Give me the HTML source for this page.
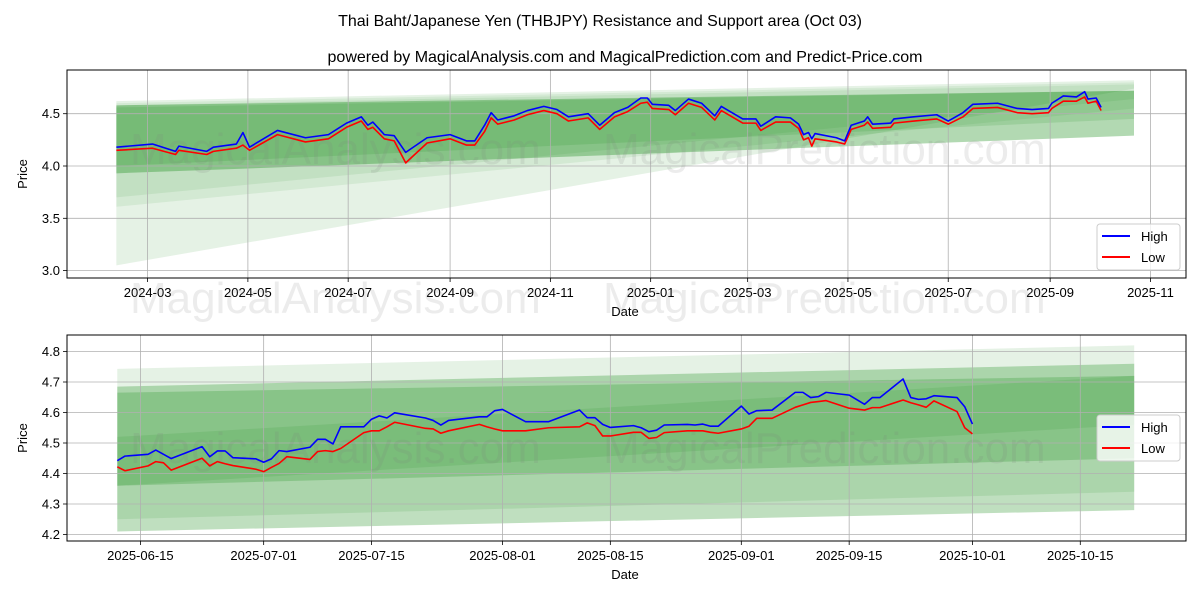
<!DOCTYPE html>
<html><head><meta charset="utf-8"><style>
body{margin:0;background:#fff}
svg{display:block;font-family:"Liberation Sans",sans-serif}
</style></head><body>
<svg id="c" width="1200" height="600" xmlns="http://www.w3.org/2000/svg">
<text x="600" y="26" text-anchor="middle" font-size="16">Thai Baht/Japanese Yen (THBJPY) Resistance and Support area (Oct 03)</text>
<text x="625" y="62" text-anchor="middle" font-size="16">powered by MagicalAnalysis.com and MagicalPrediction.com and Predict-Price.com</text>
</svg>
<script>
// ---- top chart data (days since 2024-03-01) ----
const topDays=[-19,3,17,19,36,40,54,58,62,79,96,110,121,130,134,137,144,150,157,170,184,194,199,205,209,213,223,231,241,249,256,268,275,284,292,300,304,307,317,321,329,337,345,349,362,370,373,382,391,396,399,402,404,406,419,424,428,436,438,441,452,454,466,480,487,496,502,517,529,538,548,550,557,565,570,572,577,580];
const topHigh=[4.18,4.21,4.14,4.19,4.14,4.18,4.21,4.32,4.18,4.34,4.27,4.30,4.41,4.47,4.39,4.42,4.30,4.29,4.13,4.27,4.30,4.24,4.24,4.39,4.51,4.44,4.48,4.53,4.57,4.54,4.47,4.50,4.39,4.51,4.56,4.65,4.65,4.59,4.58,4.53,4.64,4.60,4.48,4.57,4.45,4.45,4.38,4.47,4.46,4.40,4.30,4.32,4.26,4.31,4.27,4.24,4.39,4.43,4.47,4.40,4.41,4.45,4.47,4.49,4.43,4.51,4.59,4.60,4.55,4.54,4.55,4.60,4.67,4.66,4.71,4.64,4.65,4.56];
const topLow=[4.15,4.17,4.11,4.15,4.11,4.14,4.17,4.20,4.15,4.30,4.23,4.26,4.37,4.43,4.35,4.37,4.26,4.24,4.03,4.22,4.26,4.20,4.20,4.33,4.46,4.40,4.44,4.49,4.53,4.50,4.43,4.46,4.35,4.47,4.52,4.60,4.61,4.55,4.54,4.49,4.60,4.56,4.44,4.53,4.41,4.41,4.34,4.42,4.42,4.36,4.25,4.27,4.19,4.26,4.23,4.21,4.35,4.39,4.42,4.36,4.37,4.41,4.43,4.45,4.40,4.47,4.55,4.56,4.51,4.50,4.51,4.55,4.62,4.62,4.66,4.60,4.62,4.53];
const topTickLabels=["2024-03","2024-05","2024-07","2024-09","2024-11","2025-01","2025-03","2025-05","2025-07","2025-09","2025-11"];
const topTickDays=[0,61,122,184,245,306,365,426,487,549,610];
const topYTicks=[3.0,3.5,4.0,4.5];
const topBandDays=[-19,600];
const topBandTop=[[4.62,4.82],[4.60,4.80],[4.58,4.78],[4.58,4.72],[4.56,4.72]];
const topBandBot=[[3.05,4.74],[3.61,4.55],[3.70,4.64],[3.93,4.29],[4.00,4.45]];
const topBandAlpha=[0.1,0.08,0.08,0.3,0.12];
// ---- bottom chart data (days since 2025-06-15) ----
const botDays=[-3,-2,1,2,3,4,8,9,10,11,12,15,16,17,18,19,22,23,24,25,26,29,30,31,32,33,37,38,39,40,44,45,46,47,50,53,57,58,59,60,61,64,65,66,67,68,71,72,73,74,75,78,79,80,82,85,86,87,88,89,92,94,95,96,99,100,101,102,103,106,107,108];
const botHigh=[4.442,4.457,4.463,4.477,4.463,4.449,4.488,4.455,4.474,4.474,4.452,4.448,4.437,4.448,4.475,4.472,4.486,4.512,4.512,4.497,4.553,4.553,4.578,4.589,4.582,4.599,4.582,4.574,4.559,4.574,4.586,4.586,4.606,4.610,4.570,4.570,4.608,4.583,4.583,4.561,4.551,4.557,4.550,4.537,4.542,4.559,4.561,4.559,4.562,4.555,4.555,4.621,4.595,4.606,4.608,4.666,4.666,4.649,4.652,4.666,4.657,4.627,4.649,4.649,4.710,4.649,4.643,4.645,4.655,4.649,4.619,4.562];
const botLow=[4.422,4.409,4.425,4.439,4.435,4.411,4.450,4.425,4.439,4.432,4.426,4.414,4.406,4.420,4.433,4.455,4.446,4.472,4.475,4.472,4.482,4.534,4.540,4.540,4.553,4.568,4.548,4.546,4.532,4.540,4.561,4.553,4.546,4.540,4.540,4.550,4.553,4.566,4.557,4.523,4.523,4.535,4.535,4.515,4.518,4.534,4.540,4.540,4.540,4.535,4.532,4.546,4.555,4.581,4.581,4.617,4.625,4.633,4.636,4.639,4.614,4.608,4.616,4.616,4.641,4.632,4.625,4.617,4.638,4.603,4.550,4.530];
const botTickLabels=["2025-06-15","2025-07-01","2025-07-15","2025-08-01","2025-08-15","2025-09-01","2025-09-15","2025-10-01","2025-10-15"];
const botTickDays=[0,16,30,47,61,78,92,108,122];
const botYTicks=[4.2,4.3,4.4,4.5,4.6,4.7,4.8];
const botBandDays=[-3,129];
const botBandTop=[[4.743,4.82],[4.685,4.76],[4.665,4.72],[4.52,4.72]];
const botBandBot=[[4.25,4.34],[4.21,4.28],[4.36,4.45],[4.36,4.56]];
const botBandAlpha=[0.1,0.25,0.2,0.1];

const NS="http://www.w3.org/2000/svg";
const svg=document.getElementById('c');
function mk(tag,attrs,parent){const e=document.createElementNS(NS,tag);for(const k in attrs)e.setAttribute(k,attrs[k]);(parent||svg).appendChild(e);return e;}

function chart(o){
  const g=mk('g',{});
  
  
  const X=d=>o.x0+(d-o.d0)*o.pxd;
  const Y=v=>o.y0-(v-o.v0)*o.pxv;
  for(let i=0;i<o.bt.length;i++){
    const a=o.bd[0],b=o.bd[1];
    const p=mk('polygon',{points:`${X(a)},${Y(o.bt[i][0])} ${X(b)},${Y(o.bt[i][1])} ${X(b)},${Y(o.bb[i][1])} ${X(a)},${Y(o.bb[i][0])}`,fill:'rgb(0,128,0)','fill-opacity':o.ba[i]},g);
    
    
  }
  o.xt.forEach((d,i)=>{
    const l=mk('line',{x1:X(d),x2:X(d),y1:o.top,y2:o.bot,stroke:'#b0b0b0','stroke-width':0.8},g);
    
    
    mk('line',{x1:X(d),x2:X(d),y1:o.bot,y2:o.bot+4,stroke:'#000','stroke-width':0.8},g);
    const t=mk('text',{x:X(d),y:o.bot+19,'text-anchor':'middle','font-size':13},g);
    t.textContent=o.xl[i];
    
    
  });
  o.yt.forEach(v=>{
    const l=mk('line',{x1:o.left,x2:o.right,y1:Y(v),y2:Y(v),stroke:'#b0b0b0','stroke-width':0.8},g);
    
    
    mk('line',{x1:o.left-4,x2:o.left,y1:Y(v),y2:Y(v),stroke:'#000','stroke-width':0.8},g);
    const t=mk('text',{x:o.left-7,y:Y(v)+4.5,'text-anchor':'end','font-size':13},g);
    t.textContent=v.toFixed(1);
    
    
  });
  [[o.wm1x,'MagicalAnalysis.com'],[o.wm2x,'MagicalPrediction.com']].forEach(w=>{
    const t=mk('text',{x:w[0],y:o.wmy,'font-size':44,fill:'rgba(128,128,128,0.15)'},g);
    t.textContent=w[1];
    
    
  });
  const line=(days,vals,col,nm)=>{
    const p=mk('polyline',{points:days.map((d,i)=>X(d)+','+Y(vals[i])).join(' '),fill:'none',stroke:col,'stroke-width':1.6,'stroke-linejoin':'round'},g);
    
    
  };
  line(o.days,o.low,'#ff0000','low-line');
  line(o.days,o.high,'#0000ff','high-line');
  const f=mk('rect',{x:o.left,y:o.top,width:o.right-o.left,height:o.bot-o.top,fill:'none',stroke:'#000','stroke-width':1},g);
  
  
  const yt=mk('text',{x:0,y:0,'text-anchor':'middle','font-size':13,transform:`translate(27,${(o.top+o.bot)/2}) rotate(-90)`},g);
  yt.textContent='Price';
  
  
  const xt=mk('text',{x:625,y:o.bot+38,'text-anchor':'middle','font-size':13},g);
  xt.textContent='Date';
  
  
  const lg=mk('g',{},g);
  
  
  mk('rect',{x:1097,y:o.ly,width:83,height:46,rx:3,fill:'rgba(255,255,255,0.8)',stroke:'#ccc'},lg);
  [['High','#0000ff'],['Low','#ff0000']].forEach((e,i)=>{
    const yy=o.ly+12+i*21;
    mk('line',{x1:1102,x2:1130,y1:yy,y2:yy,stroke:e[1],'stroke-width':2},lg);
    const t=mk('text',{x:1141,y:yy+5,'font-size':13},lg);
    t.textContent=e[0];
    
    
  });
}
chart({name:'top-chart',left:67,right:1186,top:70,bot:278,x0:147.6,d0:0,pxd:1.644,y0:166,v0:4.0,pxv:104.6,
  days:topDays,high:topHigh,low:topLow,xt:topTickDays,xl:topTickLabels,yt:topYTicks,bd:topBandDays,bt:topBandTop,bb:topBandBot,ba:topBandAlpha,
  ly:224,wm1x:130,wm2x:603,wmy:164});
chart({name:'bottom-chart',left:67,right:1186,top:335,bot:541,x0:140.4,d0:0,pxd:7.704,y0:443,v0:4.5,pxv:305,
  days:botDays,high:botHigh,low:botLow,xt:botTickDays,xl:botTickLabels,yt:botYTicks,bd:botBandDays,bt:botBandTop,bb:botBandBot,ba:botBandAlpha,
  ly:415,wm1x:130,wm2x:603,wmy:463});
const w1=mk('text',{x:130,y:313,'font-size':44,fill:'rgba(128,128,128,0.15)'});
w1.textContent='MagicalAnalysis.com';


const w2=mk('text',{x:603,y:313,'font-size':44,fill:'rgba(128,128,128,0.15)'});
w2.textContent='MagicalPrediction.com';


</script>
</body></html>
